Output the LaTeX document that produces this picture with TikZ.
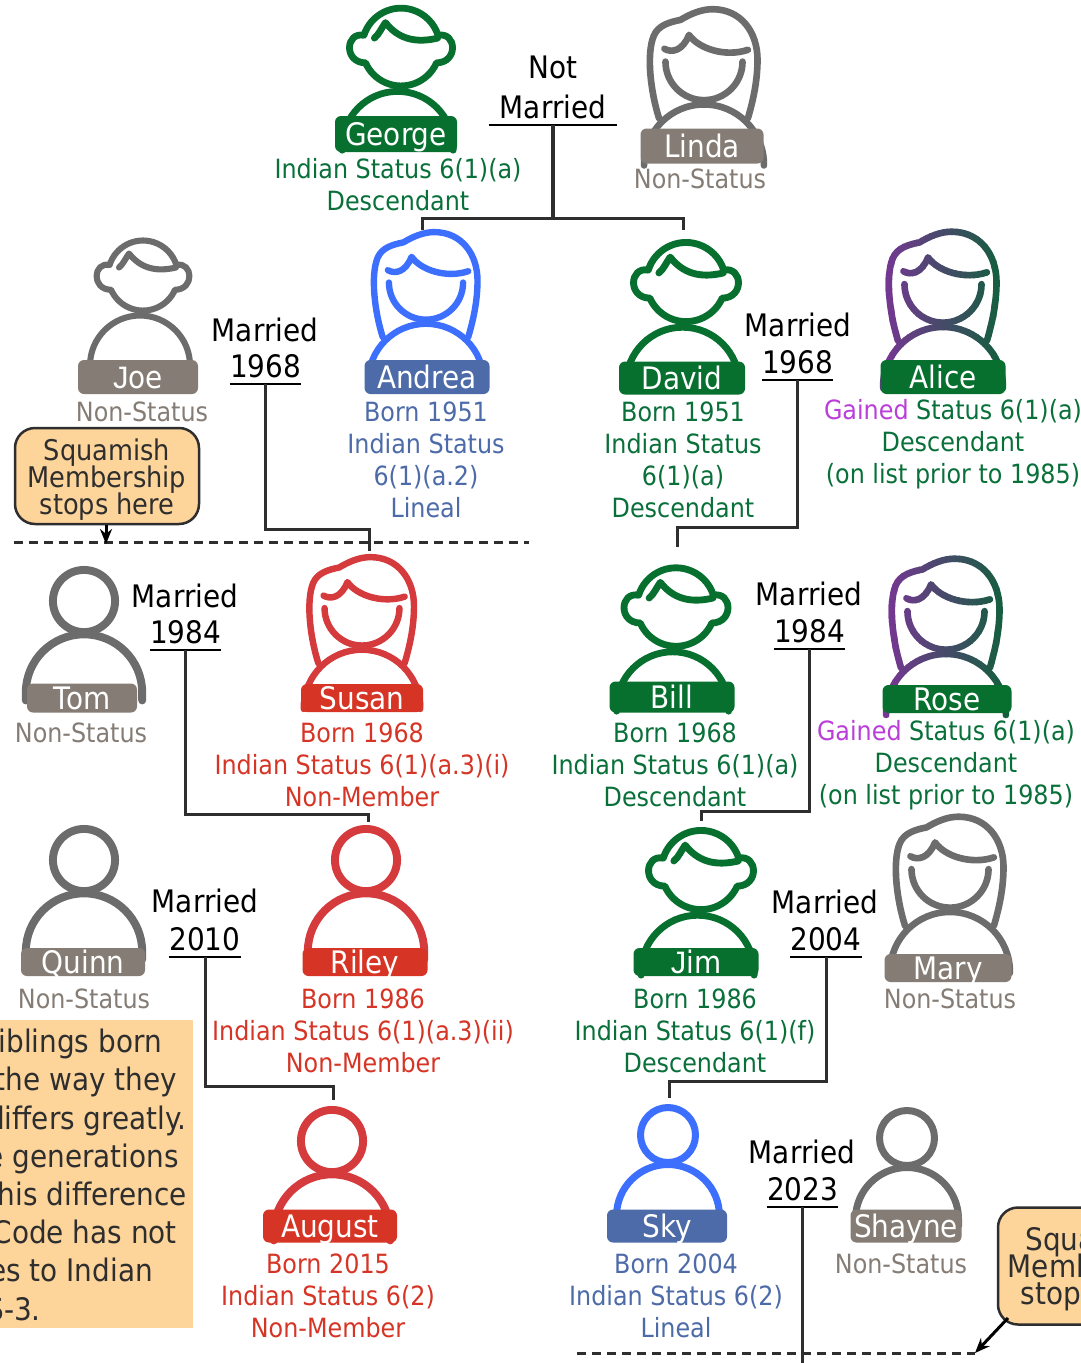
\documentclass[tikz,border=0pt]{standalone}
\usepackage{fontspec}
\setmainfont[FakeStretch=0.9]{DejaVu Sans}
\newfontfamily\jfont{Liberation Sans}
\usetikzlibrary{arrows.meta}
\definecolor{cgreen}{HTML}{07702F}
\definecolor{tgreen}{HTML}{0A703A}
\definecolor{sblue}{HTML}{3D6FFF}
\definecolor{lblue}{HTML}{4D6BA8}
\definecolor{sred}{HTML}{D53A3C}
\definecolor{lred}{HTML}{D63526}
\definecolor{sgray}{HTML}{6C6C6C}
\definecolor{lgray}{HTML}{857D75}
\definecolor{morange}{HTML}{FDD49A}
\definecolor{gained}{HTML}{B93FD8}
\definecolor{gradL}{HTML}{7B3598}
\definecolor{gradR}{HTML}{10603A}
\definecolor{conn}{HTML}{2E2E2E}
\newcommand{\tightlines}{\lineskiplimit-30pt\relax}
\tikzset{
  iconline/.style={line cap=round,line join=round,fill=none},
  plabel/.style={rectangle,rounded corners=6pt,inner sep=0pt,text=white,text height=23pt,text depth=0pt,font=\fontsize{31}{31}\selectfont},
  info/.style={inner sep=0pt,align=center,font=\fontsize{26.5}{32}\selectfont},
  marr/.style={inner sep=0pt,text height=22pt,text depth=0pt,font=\fontsize{31}{31}\selectfont},
  yearnode/.style={anchor=south,inner xsep=0pt,inner ysep=6pt,text height=22pt,text depth=0pt,minimum width=68pt,font=\fontsize{31}{31}\selectfont},
  uline/.style={line width=2.5pt,black},
  connector/.style={line width=3pt,conn},
  dashline/.style={line width=3pt,conn,dash pattern=on 9pt off 6pt},
  callout/.style={draw=conn,line width=2.5pt,fill=morange,rounded corners=20pt,inner sep=0pt,text=conn,align=center,font=\fontsize{28.5}{27}\selectfont\tightlines},
  notearrow/.style={line width=3pt,black,-{Stealth[length=15pt,width=12pt]}},
  noteline/.style={anchor=base east,inner sep=0pt,text=conn,font=\fontsize{31}{31}\selectfont}
}
% boy icon: cx, head cy, scale, colour
\newcommand{\boyicon}[4]{%
  \begin{scope}[shift={(#1,#2)},scale=#3]
    \pgfmathsetmacro{\lw}{6.1*#3}
    \draw[iconline,#4,line width=\lw pt]
      (197.5:35) arc[start angle=197.5,end angle=342.5,radius=35]
      .. controls (50,-14) and (52,14) .. (32,14.3)
      arc[start angle=24,end angle=156,radius=35]
      .. controls (-52,14) and (-50,-14) .. cycle;
    \draw[iconline,#4,line width=\lw pt]
      (-24,-8) .. controls (-20,-11) and (-17,-18) .. (-14,-22)
      .. controls (-3,-8) and (12,-3) .. (33,-8);
    \draw[iconline,#4,line width=\lw pt]
      (-53,93) -- (-53,90) arc[start angle=180,end angle=360,radius=50] -- (47,93);
  \end{scope}}
% girl icon: cx, face cy, scale, colour
\newcommand{\girlicon}[4]{%
  \begin{scope}[shift={(#1,#2)},scale=#3]
    \pgfmathsetmacro{\lw}{6.2*#3}
    \draw[iconline,#4,line width=\lw pt]
      (-42,55) .. controls (-50,30) and (-54,-5) .. (-47,-22)
      .. controls (-43,-32) and (-32,-35) .. (-22,-37)
      .. controls (-12,-43) and (-2,-47) .. (8,-47)
      .. controls (35,-47) and (50,-25) .. (50,0)
      .. controls (50,20) and (46,38) .. (41,55);
    \draw[iconline,#4,line width=\lw pt]
      (-36,2) arc[start angle=180,end angle=0,radius=36,] ;
    \draw[iconline,#4,line width=\lw pt]
      (-37,-10) .. controls (-30,-6) and (-20,-8) .. (-14,-23)
      .. controls (-5,-10) and (20,-2) .. (41,-9);
    \draw[iconline,#4,line width=\lw pt]
      (-56,99) -- (-56,98) arc[start angle=180,end angle=360,radius=56] -- (56,99);
  \end{scope}}
% girl icon drawn in a left-to-right colour blend
\newcommand{\gradgirl}[3]{%
  \foreach \k in {0,...,29}{%
    \pgfmathsetmacro{\pc}{100-100*\k/29}
    \colorlet{mixc}{gradL!\pc!gradR}
    \begin{scope}
      \clip ({#1-62*#3+\k*124*#3/30-0.3},{#2-70}) rectangle ({#1-62*#3+(\k+1)*124*#3/30+0.3},{#2+120});
      \girlicon{#1}{#2}{#3}{mixc}
    \end{scope}}}
% plain icon: cx, head cy, scale, colour
\newcommand{\plainicon}[4]{%
  \begin{scope}[shift={(#1,#2)},scale=#3]
    \pgfmathsetmacro{\lw}{7*#3}
    \draw[iconline,#4,line width=\lw pt] (0,0) circle[radius=27.5];
    \draw[iconline,#4,line width=\lw pt]
      (-51.5,88) -- (-51.5,81) arc[start angle=180,end angle=360,radius=51.5] -- (51.5,88);
  \end{scope}}
\begin{document}
\begin{tikzpicture}[x=1pt,y=-1pt]
\useasboundingbox (0,0) rectangle (1081,1363);
\fill[white] (0,0) rectangle (1081,1363);
\clip (0,0) rectangle (1081,1363);

% ---- icons
\boyicon{401}{47}{1.11}{cgreen}
\girlicon{704}{59.5}{1.07}{sgray}
\boyicon{143}{275.5}{1}{sgray}
\girlicon{426}{280.5}{1.03}{sblue}
\boyicon{686}{282}{1.13}{cgreen}
\gradgirl{943}{282}{1.07}
\plainicon{84}{601}{1.13}{sgray}
\girlicon{362}{606}{1.04}{sred}
\boyicon{676}{607}{1.12}{cgreen}
\gradgirl{946}{609}{1.07}
\plainicon{84}{860}{1.13}{sgray}
\plainicon{366}{860}{1.13}{sred}
\boyicon{701}{870}{1.13}{cgreen}
\girlicon{950}{867}{1.07}{sgray}
\plainicon{332}{1141}{1.13}{sred}
\plainicon{668}{1135}{1}{sblue}
\plainicon{907}{1138}{1}{sgray}

% ---- name labels
\node[plabel,fill=cgreen,minimum width=122pt,minimum height=36pt] (georgeL) at (396,134) {George};
\node[plabel,fill=lgray,minimum width=123pt,minimum height=35pt] (lindaL) at (702,146) {Linda};
\node[plabel,fill=lgray,minimum width=120pt,minimum height=34pt] (joeL) at (138,377) {{\jfont J}oe};
\node[plabel,fill=lblue,minimum width=125pt,minimum height=34pt] (andreaL) at (427,377) {Andrea};
\node[plabel,fill=cgreen,minimum width=126pt,minimum height=33pt] (davidL) at (682,378) {David};
\node[plabel,fill=cgreen,minimum width=125pt,minimum height=34pt] (aliceL) at (943,377) {Alice};
\node[plabel,fill=lgray,minimum width=110pt,minimum height=29pt] (tomL) at (82,698) {Tom};
\node[plabel,fill=lred,minimum width=122pt,minimum height=28pt] (susanL) at (362,698) {Susan};
\node[plabel,fill=cgreen,minimum width=125pt,minimum height=31pt] (billL) at (672,697) {Bill};
\node[plabel,fill=cgreen,minimum width=129pt,minimum height=28pt] (roseL) at (947,699) {Rose};
\node[plabel,fill=lgray,minimum width=124pt,minimum height=28pt] (quinnL) at (83,962) {Quinn};
\node[plabel,fill=lred,minimum width=125pt,minimum height=28pt] (rileyL) at (365,962) {Riley};
\node[plabel,fill=cgreen,minimum width=125pt,minimum height=28pt] (jimL) at (696,962) {{\jfont J}im};
\node[plabel,fill=lgray,minimum width=127pt,minimum height=28pt] (maryL) at (948,968) {Mary};
\node[plabel,fill=lred,minimum width=134pt,minimum height=33pt] (augustL) at (330,1226) {August};
\node[plabel,fill=lblue,minimum width=120pt,minimum height=33pt] (skyL) at (667,1226) {Sky};
\node[plabel,fill=lgray,minimum width=111pt,minimum height=33pt] (shayneL) at (906,1226) {Shayne};

% ---- status text
\node[info,text=tgreen] (georgeT) at (398,185) {Indian Status 6(1)(a)\\Descendant};
\node[info,text=lgray] (lindaT) at (700,179) {Non-Status};
\node[info,text=lgray] (joeT) at (142,412) {Non-Status};
\node[info,text=lblue] (andreaT) at (426,460) {Born 1951\\Indian Status\\6(1)(a.2)\\Lineal};
\node[info,text=tgreen] (davidT) at (683,460) {Born 1951\\Indian Status\\6(1)(a)\\Descendant};
\node[info,text=tgreen] (aliceT) at (953,444) {\textcolor{gained}{Gained} Status 6(1)(a)\\Descendant\\(on list prior to 1985)};
\node[info,text=lgray] (tomT) at (81,733) {Non-Status};
\node[info,text=lred] (susanT) at (362,765) {Born 1968\\Indian Status 6(1)(a.3)(i)\\Non-Member};
\node[info,text=tgreen] (billT) at (675,765) {Born 1968\\Indian Status 6(1)(a)\\Descendant};
\node[info,text=tgreen] (roseT) at (946,765) {\textcolor{gained}{Gained} Status 6(1)(a)\\Descendant\\(on list prior to 1985)};
\node[info,text=lgray] (quinnT) at (84,999) {Non-Status};
\node[info,text=lred] (rileyT) at (363,1031) {Born 1986\\Indian Status 6(1)(a.3)(ii)\\Non-Member};
\node[info,text=tgreen] (jimT) at (695,1031) {Born 1986\\Indian Status 6(1)(f)\\Descendant};
\node[info,text=lgray] (maryT) at (950,999) {Non-Status};
\node[info,text=lred] (augustT) at (328,1296) {Born 2015\\Indian Status 6(2)\\Non-Member};
\node[info,text=lblue] (skyT) at (676,1296) {Born 2004\\Indian Status 6(2)\\Lineal};
\node[info,text=lgray] (shayneT) at (901,1264) {Non-Status};

% ---- marriage labels
\node[marr] (nmA) at (553,67) {Not};
\node[yearnode,minimum width=128pt] (nmB) at (553,125) {Married};
\node[marr] (m1) at (265,330) {Married};
\node[yearnode] (y1) at (265.5,384) {1968};
\node[marr] (m2) at (798,325) {Married};
\node[yearnode] (y2) at (797.5,380) {1968};
\node[marr] (m3) at (185,596) {Married};
\node[yearnode] (y3) at (185.5,650) {1984};
\node[marr] (m4) at (809,594) {Married};
\node[yearnode] (y4) at (809.5,649) {1984};
\node[marr] (m5) at (205,901) {Married};
\node[yearnode] (y5) at (205,957) {2010};
\node[marr] (m6) at (825,902) {Married};
\node[yearnode] (y6) at (826,957) {2004};
\node[marr] (m7) at (802,1152) {Married};
\node[yearnode] (y7) at (802.5,1207) {2023};
\foreach \n in {nmB,y1,y2,y3,y4,y5,y6,y7}
  \draw[uline] (\n.south west) -- (\n.south east);

% ---- connector ends
\coordinate (nmBar) at (553,218);
\coordinate (andreaTop) at (422,230);
\coordinate (davidTop) at (683,230);
\coordinate (susanTop) at (369,551);
\coordinate (billTop) at (677,547);
\coordinate (rileyTop) at (368,822);
\coordinate (jimTop) at (701,821);
\coordinate (augustTop) at (333,1100);
\coordinate (skyTop) at (669,1098);
\coordinate (childEnd) at (802.5,1363);

\draw[connector,line width=4.5pt] (nmB.south) -- (nmBar);
\draw[connector] (andreaTop) |- (nmBar) -| (davidTop);
\draw[connector] (y1.south) -- ++(0,145) -| (susanTop);
\draw[connector] (y2.south) -- ++(0,147) -| (billTop);
\draw[connector] (y3.south) -- ++(0,164) -| (rileyTop);
\draw[connector] (y4.south) -- ++(0,162) -| (jimTop);
\draw[connector] (y5.south) -- ++(0,129) -| (augustTop);
\draw[connector] (y6.south) -- ++(0,124) -| (skyTop);
\draw[connector] (y7.south) -- (childEnd);

% ---- membership lines and callouts
\coordinate (dashA) at (14,542);
\coordinate (dashB) at (529,542);
\coordinate (dashC) at (577,1353);
\coordinate (dashD) at (975,1353);
\draw[dashline] (dashA) -- (dashB);
\draw[dashline] (dashC) -- (dashD);
\node[callout,minimum width=184pt,minimum height=96pt] (note1) at (107,476) {\rule{0pt}{29pt}Squamish\\Membership\\stops here};
\node[callout,minimum width=192pt,minimum height=117pt,font=\fontsize{31}{27}\selectfont\tightlines] (note2) at (1094,1266) {\rule{0pt}{29pt}Squamish\\Membership\\stops here};
\coordinate (note1end) at (106,544);
\draw[notearrow] (note1.south -| note1end) -- (note1end);
\coordinate (note2start) at (1008,1318);
\draw[notearrow] (note2start) -- (dashD);

% ---- side note
\fill[morange] (-5,1020) rectangle (193,1328);
\node[noteline] (s1) at (162,1052) {Siblings born};
\node[noteline] (s2) at (177,1090) {the way they};
\node[noteline] (s3) at (187,1129) {differs greatly.};
\node[noteline] (s4) at (179,1167) {e generations};
\node[noteline] (s5) at (187,1205) {this difference};
\node[noteline] (s6) at (177,1243) {Code has not};
\node[noteline] (s7) at (153,1281) {es to Indian};
\node[noteline] (s8) at (41,1320) {S-3.};
\end{tikzpicture}
\end{document}
